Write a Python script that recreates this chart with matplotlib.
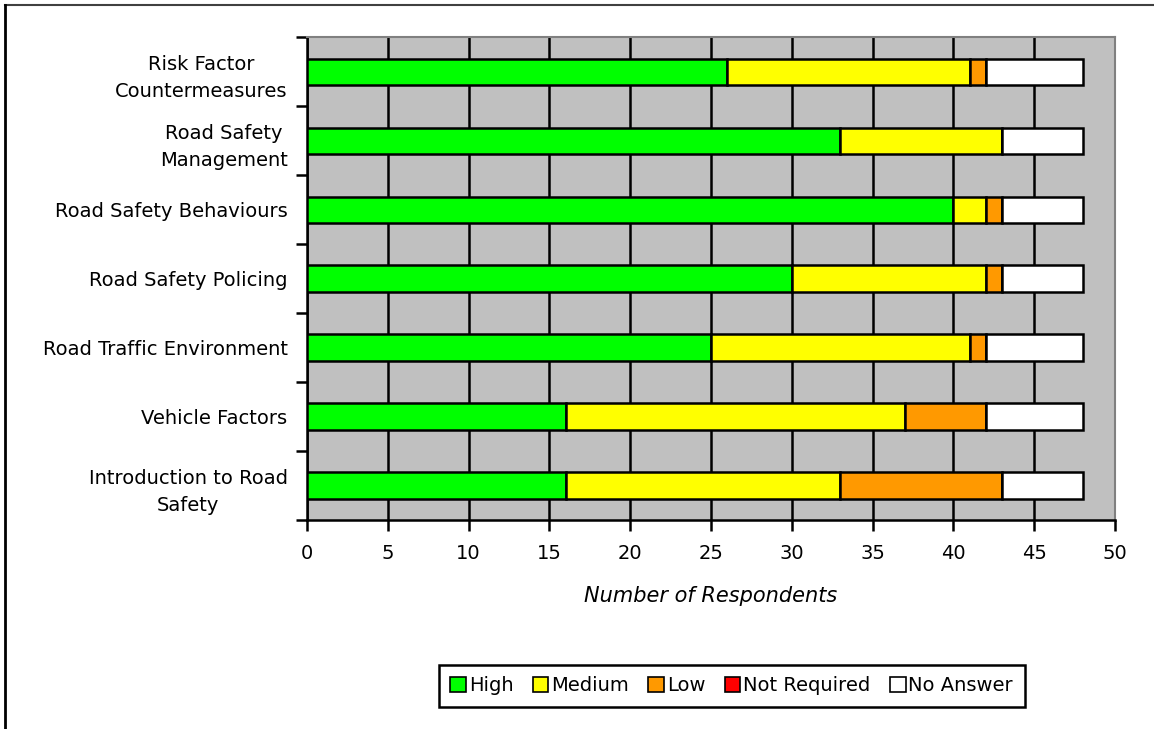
import matplotlib.pyplot as plt
from matplotlib.lines import Line2D
import numpy as np

# categories, bottom to top
categories = [
    "Introduction to Road\nSafety",
    "Vehicle Factors",
    "Road Traffic Environment",
    "Road Safety Policing",
    "Road Safety Behaviours",
    "Road Safety\nManagement",
    "Risk Factor\nCountermeasures",
]

high = [16, 16, 25, 30, 40, 33, 26]
medium = [17, 21, 16, 12, 2, 10, 15]
low = [10, 5, 1, 1, 1, 0, 1]
not_required = [0, 0, 0, 0, 0, 0, 0]
no_answer = [5, 6, 6, 5, 5, 5, 6]

series = ["High", "Medium", "Low", "Not Required", "No Answer"]
colors = ["#00FF00", "#FFFF00", "#FF9900", "#FF0000", "#FFFFFF"]

plt.rcParams['font.family'] = ['DejaVu Sans']

fig = plt.figure(figsize=(11.54, 7.29), dpi=100)
ax = fig.add_axes([0.266, 0.2867, 0.7002, 0.6623])
ax.set_facecolor("#C0C0C0")

y = np.arange(len(categories))
left = np.zeros(len(categories))
for name, vals, col in zip(series, [high, medium, low, not_required, no_answer], colors):
    vals = np.array(vals, dtype=float)
    ax.barh(y, vals, left=left, height=0.38, color=col, edgecolor="black",
            linewidth=1.8, label=name, zorder=3)
    left += vals

ax.set_xlim(0, 50)
ax.set_ylim(-0.5, len(categories) - 0.5)
ax.set_xticks(range(0, 51, 5))
ax.xaxis.grid(True, color="black", linewidth=1.8, zorder=1)
ax.set_axisbelow(True)

ax.set_yticks(y)
ax.set_yticklabels(categories, fontsize=14)
for lab in ax.get_yticklabels():
    lab.set_multialignment("center")
    lab.set_linespacing(1.55)
ax.tick_params(axis="y", length=0, pad=14)
# category separator ticks on the left axis
ax.set_yticks(np.arange(-0.5, len(categories)), minor=True)
ax.tick_params(axis="y", which="minor", length=8, width=1.8, direction="out")
ax.tick_params(axis="x", length=8, width=1.8, direction="out", labelsize=14, pad=9)

for side in ["top", "right"]:
    ax.spines[side].set_color("#808080")
    ax.spines[side].set_linewidth(1.5)
for side in ["left", "bottom"]:
    ax.spines[side].set_color("black")
    ax.spines[side].set_linewidth(1.8)

ax.set_xlabel("Number of Respondents", fontsize=15, style="italic", labelpad=17)

leg = fig.legend(loc="center", bbox_to_anchor=(0.634, 0.059), ncol=5, fontsize=14,
                 frameon=True, fancybox=False, edgecolor="black", framealpha=1,
                 handlelength=0.8, handleheight=0.8, handletextpad=0.15,
                 columnspacing=1.0, borderpad=0.6)
leg.get_frame().set_linewidth(1.8)
for h in leg.legend_handles:
    h.set_linewidth(1.2)

# chart area border (top and left visible)
fig.add_artist(Line2D([0.0045, 1.0], [0.993, 0.993], color="#404040", linewidth=1.5,
                      transform=fig.transFigure))
fig.add_artist(Line2D([0.0045, 0.0045], [0.0, 0.993], color="black", linewidth=2,
                      transform=fig.transFigure))

fig.savefig("out.png", dpi=100)
